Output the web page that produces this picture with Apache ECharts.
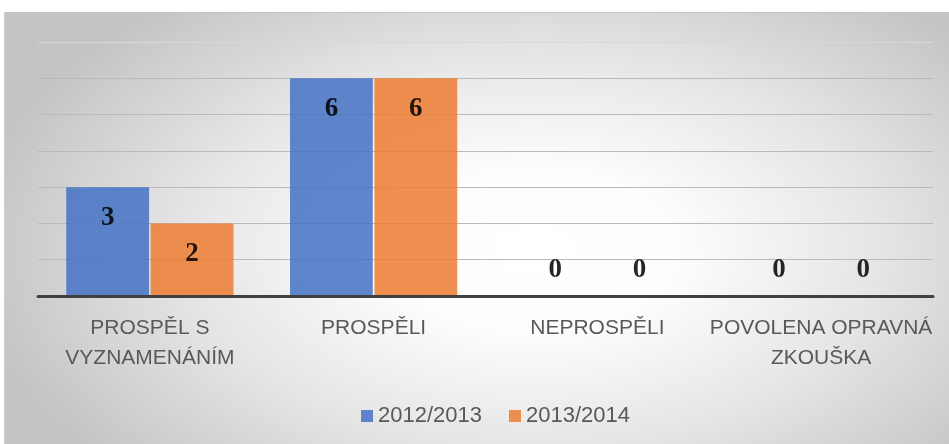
<!DOCTYPE html>
<html><head><meta charset="utf-8">
<script src="https://cdn.jsdelivr.net/npm/echarts@6/dist/echarts.min.js"></script>
<style>
html,body{margin:0;padding:0;background:#fff;width:949px;height:444px;overflow:hidden}
#bg{position:absolute;left:4px;top:12px;width:945px;height:432px;border-top:1px solid #c4c4c4;border-left:1px solid #d0d0d0;box-sizing:border-box;
background:radial-gradient(ellipse 60% 75% at 56% 55%, #ffffff 0%, #fdfdfd 25%, #e6e6e6 60%, #c4c4c4 100%);}
#c{position:absolute;left:0;top:0;width:949px;height:444px}
</style></head>
<body><div id="bg"></div><div id="c"></div>
<script>
const categories = ['PROSPĚL S\nVYZNAMENÁNÍM', 'PROSPĚLI', 'NEPROSPĚLI', 'POVOLENA OPRAVNÁ\nZKOUŠKA'];
const seriesNames = ['2012/2013', '2013/2014'];
const values2012 = [3, 6, 0, 0];
const values2013 = [2, 6, 0, 0];
const colors = ['#4472c4', '#ed7d31'];

function items(vals){
  return vals.map(v => v === 0
    ? {value: v, label: {position: 'top', distance: 12}}
    : {value: v});
}
const chart = echarts.init(document.getElementById('c'), null, {renderer:'canvas'});
chart.setOption({
  animation:false,
  backgroundColor:'transparent',
  grid:{left:38, right:16, top:42, bottom:148},
  legend:{
    left:356, top:400, itemWidth:12, itemHeight:12, itemGap:27,
    icon:'rect',
    textStyle:{fontFamily:'Liberation Sans', fontSize:22, color:'#595959'},
    data: seriesNames
  },
  xAxis:{
    type:'category', data:categories, z:5,
    axisTick:{show:false},
    axisLine:{lineStyle:{color:'#404040', width:3}},
    axisLabel:{interval:0, margin:17, fontFamily:'Liberation Sans', fontSize:21, color:'#595959', lineHeight:30, align:'center'}
  },
  yAxis:{
    type:'value', min:0, max:7, interval:1,
    axisLabel:{show:false}, axisLine:{show:false}, axisTick:{show:false},
    splitLine:{lineStyle:{color:['#bababa','#bababa','#bababa','#bababa','#bababa','#bababa','#bababa','#d8d8d8'], width:1}}
  },
  series: [values2012, values2013].map((vals,i)=>({
    name: seriesNames[i], type:'bar', data: items(vals),
    barWidth:'37%', barGap:'2%',
    itemStyle:{color:colors[i], opacity:0.85},
    label:{show:true, position:'insideTop', distance:17, fontFamily:'Liberation Serif', fontWeight:'bold', fontSize:27, color:'#000'}
  }))
});
</script></body></html>
